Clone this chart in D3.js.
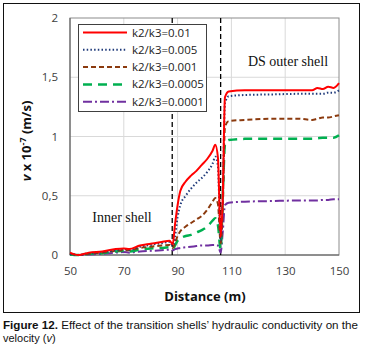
<!DOCTYPE html>
<html>
<head>
<meta charset="utf-8">
<script src="https://cdn.jsdelivr.net/npm/d3@7"></script>
<style>
  body { margin: 0; background: #fff; }
  svg text { font-family: "Liberation Sans", Arial, sans-serif; }
</style>
</head>
<body>
<svg id="canvas" width="367" height="349"></svg>
<script>
// distance grid shared by all series (m)
const distance = [50, 53, 57, 62, 67, 70, 72, 76, 80, 84, 87, 88.2, 89, 90, 91, 93, 95, 97, 99, 101, 103, 104, 105, 106, 106.8, 107.6, 109, 115, 125, 135, 140, 142, 144, 146, 148, 150];

const v001 = [0.02, 0.0, 0.02, 0.03, 0.05, 0.055, 0.05, 0.08, 0.095, 0.11, 0.12, 0.09, 0.25, 0.42, 0.54, 0.62, 0.67, 0.71, 0.76, 0.81, 0.88, 0.93, 0.82, 0.15, 0.5, 1.33, 1.38, 1.39, 1.39, 1.39, 1.39, 1.41, 1.40, 1.42, 1.41, 1.45];
const v0005 = [0.01, 0.0, 0.015, 0.025, 0.04, 0.05, 0.045, 0.07, 0.085, 0.1, 0.11, 0.08, 0.15, 0.32, 0.42, 0.5, 0.56, 0.61, 0.65, 0.7, 0.77, 0.83, 0.75, 0.12, 0.5, 1.28, 1.34, 1.35, 1.355, 1.36, 1.36, 1.36, 1.36, 1.37, 1.37, 1.39];
const v0001 = [0.01, 0.0, 0.01, 0.02, 0.035, 0.04, 0.04, 0.06, 0.07, 0.08, 0.085, 0.06, 0.1, 0.16, 0.2, 0.24, 0.27, 0.3, 0.33, 0.38, 0.45, 0.48, 0.43, 0.1, 0.4, 1.08, 1.13, 1.14, 1.15, 1.15, 1.14, 1.15, 1.16, 1.16, 1.17, 1.18];
const v00005 = [0.005, 0.0, 0.01, 0.015, 0.03, 0.035, 0.03, 0.045, 0.055, 0.06, 0.065, 0.05, 0.08, 0.12, 0.14, 0.16, 0.17, 0.19, 0.21, 0.24, 0.29, 0.31, 0.25, 0.05, 0.5, 0.93, 0.97, 0.98, 0.98, 0.98, 0.98, 0.985, 0.99, 0.99, 0.99, 1.01];
const v00001 = [0.0, 0.0, 0.005, 0.01, 0.02, 0.025, 0.02, 0.03, 0.035, 0.04, 0.045, 0.04, 0.05, 0.055, 0.06, 0.065, 0.07, 0.075, 0.08, 0.08, 0.085, 0.085, 0.08, 0.02, 0.2, 0.42, 0.44, 0.45, 0.455, 0.46, 0.46, 0.46, 0.465, 0.465, 0.47, 0.47];

const seriesNames = ["k2/k3=0.01", "k2/k3=0.005", "k2/k3=0.001", "k2/k3=0.0005", "k2/k3=0.0001"];
const xTicks = [50, 70, 90, 110, 130, 150];
const yTicks = [0, 0.5, 1, 1.5, 2];
const shellBounds = [88, 106];

const styles = [
  { color: "#ff0000", width: 2, dash: null },
  { color: "#1f3a7a", width: 2, dash: "1.5,2.2" },
  { color: "#8b3a0e", width: 2, dash: "5,3" },
  { color: "#00b050", width: 2.5, dash: "9,6" },
  { color: "#7030a0", width: 2, dash: "9,3,2,3" },
];

const m = { left: 70, top: 18, right: 339, bottom: 255 };
const svg = d3.select('#canvas');

const x = d3.scaleLinear().domain([50, 150]).range([m.left, m.right]);
const y = d3.scaleLinear().domain([0, 2]).range([m.bottom, m.top]);

// outer frame
svg.append("rect")
  .attr("x", 3.5).attr("y", 3.5).attr("width", 356).attr("height", 309)
  .attr("fill", "none").attr("stroke", "#111").attr("stroke-width", 1);

// grid
svg.append("g").selectAll("line")
  .data(xTicks.slice(1, -1))
  .join("line")
  .attr("x1", d => x(d)).attr("x2", d => x(d))
  .attr("y1", m.top).attr("y2", m.bottom)
  .attr("stroke", "#d9d9d9");
svg.append("g").selectAll("line")
  .data(yTicks.slice(1, -1))
  .join("line")
  .attr("x1", m.left).attr("x2", m.right)
  .attr("y1", d => y(d)).attr("y2", d => y(d))
  .attr("stroke", "#d9d9d9");

// plot border
svg.append("rect")
  .attr("x", m.left).attr("y", m.top)
  .attr("width", m.right - m.left).attr("height", m.bottom - m.top)
  .attr("fill", "none").attr("stroke", "#8c8c8c");
svg.append("path")
  .attr("d", `M${m.left},${m.top}V${m.bottom}H${m.right}`)
  .attr("fill", "none").attr("stroke", "#595959");

// axes
const xAxis = svg.append("g")
  .attr("transform", `translate(0,${m.bottom})`)
  .call(d3.axisBottom(x).tickValues(xTicks).tickSize(0).tickPadding(12));
const yAxis = svg.append("g")
  .attr("transform", `translate(${m.left},0)`)
  .call(d3.axisLeft(y).tickValues(yTicks).tickSize(0).tickPadding(12)
    .tickFormat(d => String(d).replace(".", ",")));
[xAxis, yAxis].forEach(a => {
  a.select(".domain").remove();
  a.selectAll("text").attr("font-size", 11.5).attr("fill", "#404040")
    .style("font-family", "'Open Sans', sans-serif");
});

// shell boundaries
svg.append("g").selectAll("line")
  .data(shellBounds)
  .join("line")
  .attr("x1", d => x(d)).attr("x2", d => x(d))
  .attr("y1", m.top).attr("y2", m.bottom)
  .attr("stroke", "#000").attr("stroke-width", 1.3).attr("stroke-dasharray", "5,3");

// series
const allSeries = [v001, v0005, v0001, v00005, v00001];
const line = d3.line()
  .x(d => x(d[0])).y(d => y(d[1]))
  .curve(d3.curveMonotoneX);

svg.append("g").selectAll("path")
  .data(allSeries.map((vals, i) => ({ i, pts: distance.map((d, j) => [d, vals[j]]) })).reverse())
  .join("path")
  .attr("d", d => line(d.pts))
  .attr("fill", "none")
  .attr("stroke", d => styles[d.i].color)
  .attr("stroke-width", d => styles[d.i].width)
  .attr("stroke-dasharray", d => styles[d.i].dash);

// annotations
svg.append("text").attr("x", 122).attr("y", 222).attr("text-anchor", "middle")
  .attr("font-size", 14).style("font-family", "'Liberation Serif', serif").attr("fill", "#111")
  .text("Inner shell");
svg.append("text").attr("x", 288).attr("y", 66).attr("text-anchor", "middle")
  .attr("font-size", 14).style("font-family", "'Liberation Serif', serif").attr("fill", "#111")
  .text("DS outer shell");

// legend
const lg = svg.append("g");
lg.append("rect").attr("x", 78.5).attr("y", 24.5).attr("width", 128).attr("height", 87)
  .attr("fill", "#fff").attr("stroke", "#404040");
const items = lg.selectAll("g.item")
  .data(seriesNames)
  .join("g")
  .attr("class", "item")
  .attr("transform", (d, i) => `translate(0,${32.5 + i * 17.3})`);
items.append("line")
  .attr("x1", 83).attr("x2", 127).attr("y1", 0).attr("y2", 0)
  .attr("stroke", (d, i) => styles[i].color)
  .attr("stroke-width", (d, i) => styles[i].width)
  .attr("stroke-dasharray", (d, i) => styles[i].dash);
items.append("text")
  .attr("x", 132).attr("y", 4)
  .attr("font-size", 11.5).attr("fill", "#222")
  .style("font-family", "'Open Sans', sans-serif")
  .text(d => d);

// axis titles
svg.append("text")
  .attr("x", 205).attr("y", 301).attr("text-anchor", "middle")
  .attr("font-size", 13).attr("font-weight", "bold").attr("fill", "#111")
  .style("font-family", "'Open Sans', sans-serif")
  .text("Distance (m)");

const yl = svg.append("text")
  .attr("transform", "translate(31,141) rotate(-90)")
  .attr("text-anchor", "middle")
  .attr("font-size", 13).attr("font-weight", "bold").attr("fill", "#111")
  .style("font-family", "'Open Sans', sans-serif");
yl.append("tspan").attr("font-style", "italic").text("v");
yl.append("tspan").text(" x 10");
yl.append("tspan").attr("dy", -5).attr("font-size", 9).text("-7");
yl.append("tspan").attr("dy", 5).text(" (m/s)");

// caption
const c1 = svg.append("text").attr("x", 3).attr("y", 329)
  .attr("font-size", 11).attr("fill", "#111")
  .attr("textLength", 355).attr("lengthAdjust", "spacingAndGlyphs");
c1.append("tspan").attr("font-weight", "bold").text("Figure 12.");
c1.append("tspan").text(" Effect of the transition shells\u2019 hydraulic conductivity on the");
const c2 = svg.append("text").attr("x", 3).attr("y", 342)
  .attr("font-size", 11).attr("fill", "#111");
c2.append("tspan").text("velocity (");
c2.append("tspan").attr("font-style", "italic").text("v");
c2.append("tspan").text(")");
</script>
</body>
</html>
